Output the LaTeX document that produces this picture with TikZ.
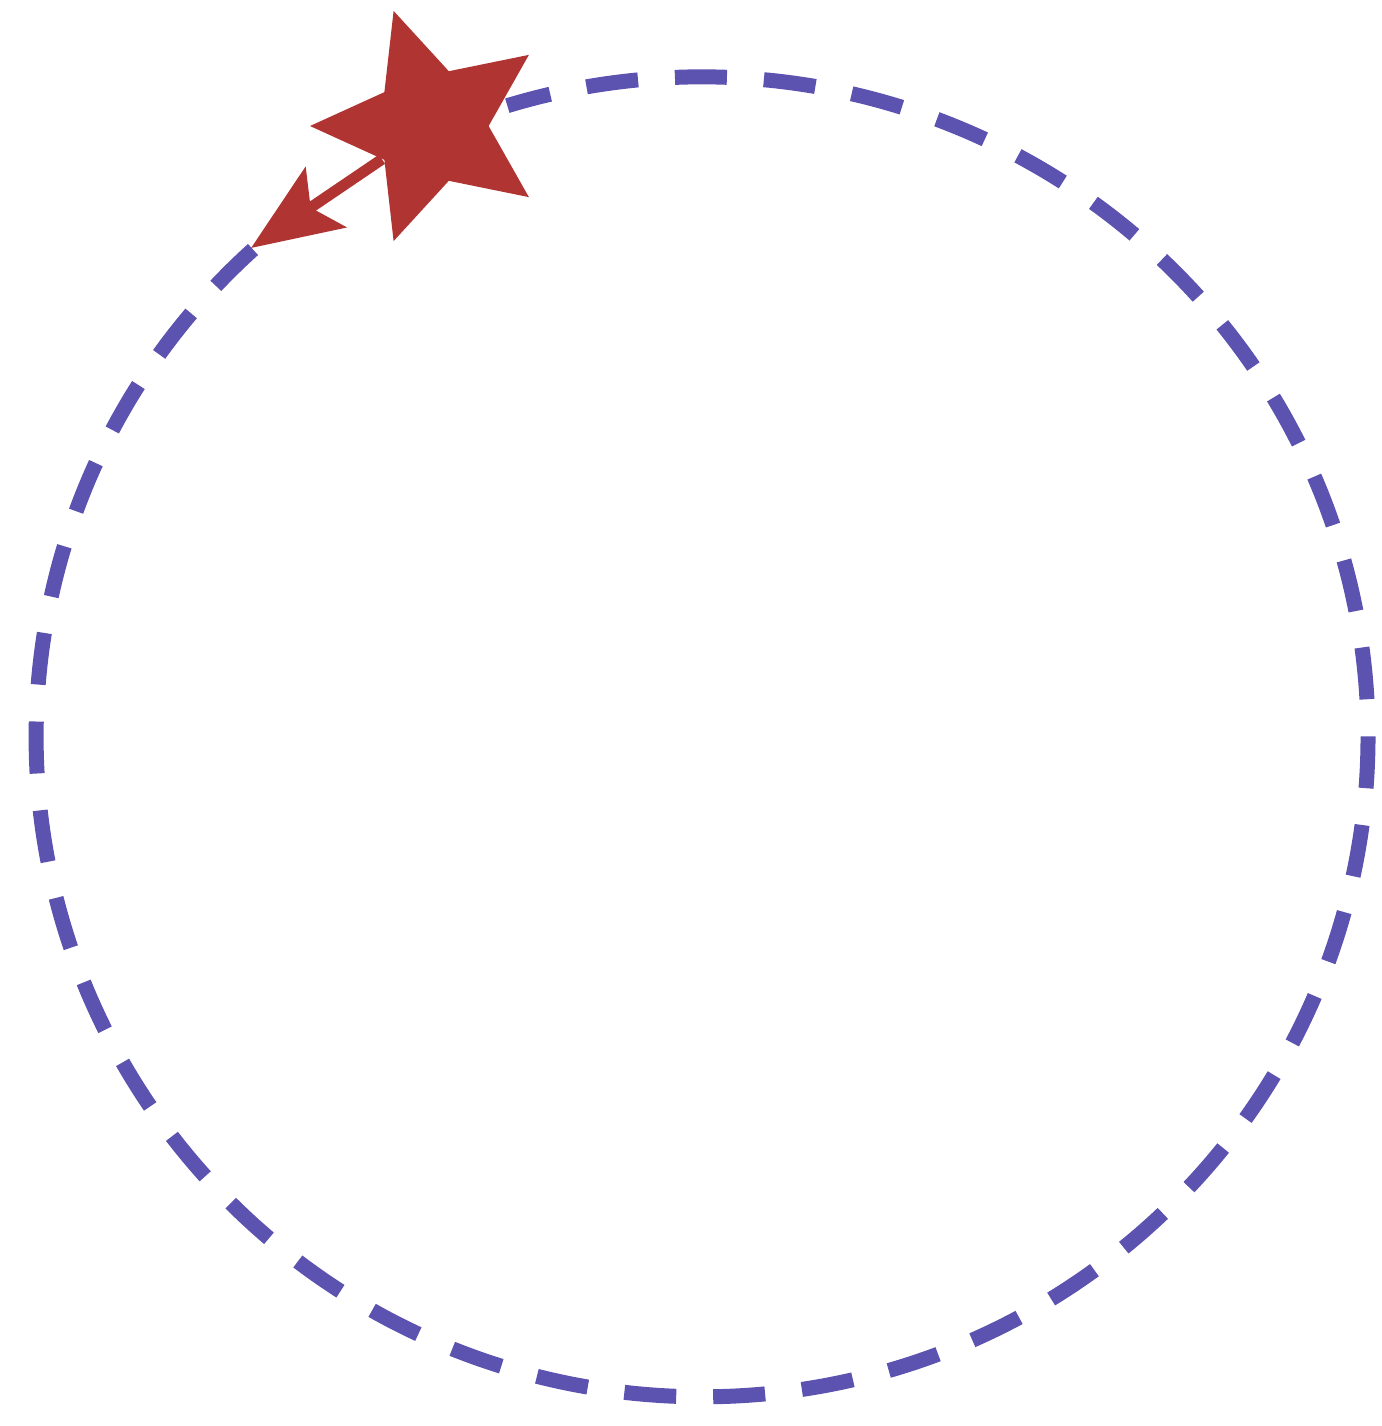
\documentclass[tikz,border=0pt]{standalone}
\usetikzlibrary{shapes.geometric,arrows.meta}
\definecolor{orbit}{RGB}{92,82,176}
\definecolor{starred}{RGB}{176,52,50}
\begin{document}
\begin{tikzpicture}[x=0.5pt,y=-0.5pt,
  orbitline/.style={draw=orbit,line width=7.5pt,dash pattern=on 26pt off 18.5pt},
  starnode/.style={star,star points=5,star point ratio=2.1,minimum size=121pt,inner sep=0pt,fill=starred,draw=none,rotate=18},
  shot/.style={draw=starred,line width=5.5pt,-{Stealth[length=45pt,width=36pt,inset=9pt]}}]
\useasboundingbox (0,0) rectangle (1382,1426);
\coordinate (c) at (702,737);
\coordinate (tip) at (251,248);
\draw[orbitline] (253,249.5) arc[start angle=-132.4,end angle=-467,x radius=666,y radius=660];
\node[starnode] (s) at (431,126) {};
\draw[shot] (s) -- (tip);
\end{tikzpicture}
\end{document}
